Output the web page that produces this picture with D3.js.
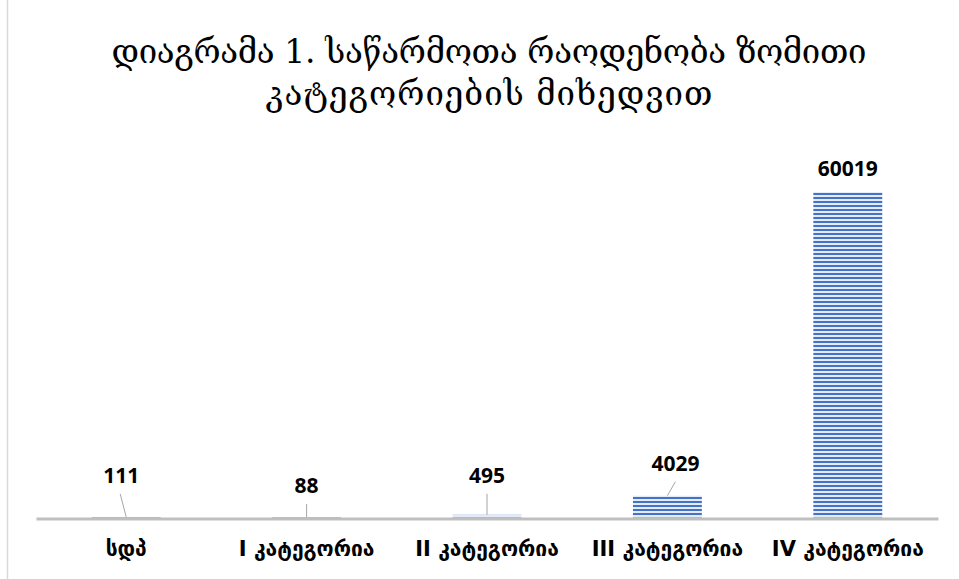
<!DOCTYPE html>
<html>
<head>
<meta charset="utf-8">
<script src="https://cdn.jsdelivr.net/npm/d3@7"></script>
<style>
  body { margin: 0; background: #fff; }
</style>
</head>
<body>
<div class="chart"></div>
<script>
const categories = ['სდპ', 'I კატეგორია', 'II კატეგორია', 'III კატეგორია', 'IV კატეგორია']
const values = [111, 88, 495, 4029, 60019]
const titleLines = ['დიაგრამა 1. საწარმოთა რაოდენობა ზომითი', 'კატეგორიების მიხედვით']

// label nudges (Excel moved the small ones and drew leader lines)
const labelShift = [[-5, -18], [0, -8], [0, -16], [8, -9], [0, 0]]

const data = categories.map((c, i) => ({ cat: c, value: values[i], shift: labelShift[i] }))

const W = 959, H = 579
const margin = { left: 36, right: 21, top: 138, bottom: 61 }
const baseY = H - margin.bottom - 0.5

const svg = d3.select('.chart').append('svg')
    .attr('width', W)
    .attr('height', H)

// stripe pattern
const pat = svg.append('defs').append('pattern')
    .attr('id', 'stripes')
    .attr('patternUnits', 'userSpaceOnUse')
    .attr('width', 8)
    .attr('height', 4)
pat.append('rect').attr('width', 8).attr('height', 4).attr('fill', '#e4ebf7')
pat.append('rect').attr('y', 1).attr('width', 8).attr('height', 2).attr('fill', '#4472c4')

// chart frame
svg.append('rect')
    .attr('x', 7.5).attr('y', -5)
    .attr('width', W + 10).attr('height', H + 10)
    .attr('fill', 'none')
    .attr('stroke', '#d9d9d9')
    .attr('stroke-width', 1.5)

// title
svg.append('g').selectAll('text')
    .data(titleLines)
    .enter()
    .append('text')
    .attr('x', 489)
    .attr('y', (d, i) => 63 + i * 42)
    .attr('text-anchor', 'middle')
    .attr('font-family', '"DejaVu Serif", serif')
    .attr('font-size', 33)
    .attr('fill', '#000')
    .attr('textLength', (d, i) => i === 0 ? 755 : 447)
    .attr('lengthAdjust', 'spacing')
    .text(d => d)

// scales
const xScale = d3.scaleBand()
    .domain(categories)
    .range([margin.left, W - margin.right])
    .paddingInner(0.618)
    .paddingOuter(0.309)

const yScale = d3.scaleLinear()
    .domain([0, 70000])
    .range([baseY, margin.top])

// bars
svg.selectAll('.bar')
    .data(data)
    .enter()
    .append('rect')
    .attr('class', 'bar')
    .attr('x', d => xScale(d.cat))
    .attr('y', d => yScale(d.value))
    .attr('width', xScale.bandwidth())
    .attr('height', d => baseY - yScale(d.value))
    .attr('fill', 'url(#stripes)')

// axis line
const xAxis = svg.append('g')
    .attr('transform', `translate(0, ${baseY + 1})`)
    .call(d3.axisBottom(xScale).tickSize(0).tickPadding(23))
xAxis.select('.domain')
    .attr('stroke', '#bfbfbf')
    .attr('stroke-width', 3)
xAxis.selectAll('text')
    .attr('font-family', '"DejaVu Sans", sans-serif')
    .attr('font-weight', 'bold')
    .attr('font-size', 21)
    .attr('fill', '#000')

// labels
const cx = d => xScale(d.cat) + xScale.bandwidth() / 2
const lx = d => cx(d) + d.shift[0]
const ly = d => yScale(d.value) - 16 + d.shift[1]

svg.selectAll('.leader')
    .data(data.filter(d => d.shift[0] !== 0 || d.shift[1] !== 0))
    .enter()
    .append('line')
    .attr('class', 'leader')
    .attr('x1', d => lx(d) - (d.shift[0] < 0 ? 1 : 0))
    .attr('y1', d => ly(d) + 11)
    .attr('x2', cx)
    .attr('y2', d => yScale(d.value))
    .attr('stroke', '#a6a6a6')
    .attr('stroke-width', 1)

svg.selectAll('.label')
    .data(data)
    .enter()
    .append('text')
    .attr('class', 'label')
    .attr('x', lx)
    .attr('y', ly)
    .attr('text-anchor', 'middle')
    .attr('font-family', '"Open Sans", sans-serif')
    .attr('font-weight', 'bold')
    .attr('font-size', 21)
    .attr('fill', '#000')
    .text(d => d.value)
</script>
</body>
</html>
